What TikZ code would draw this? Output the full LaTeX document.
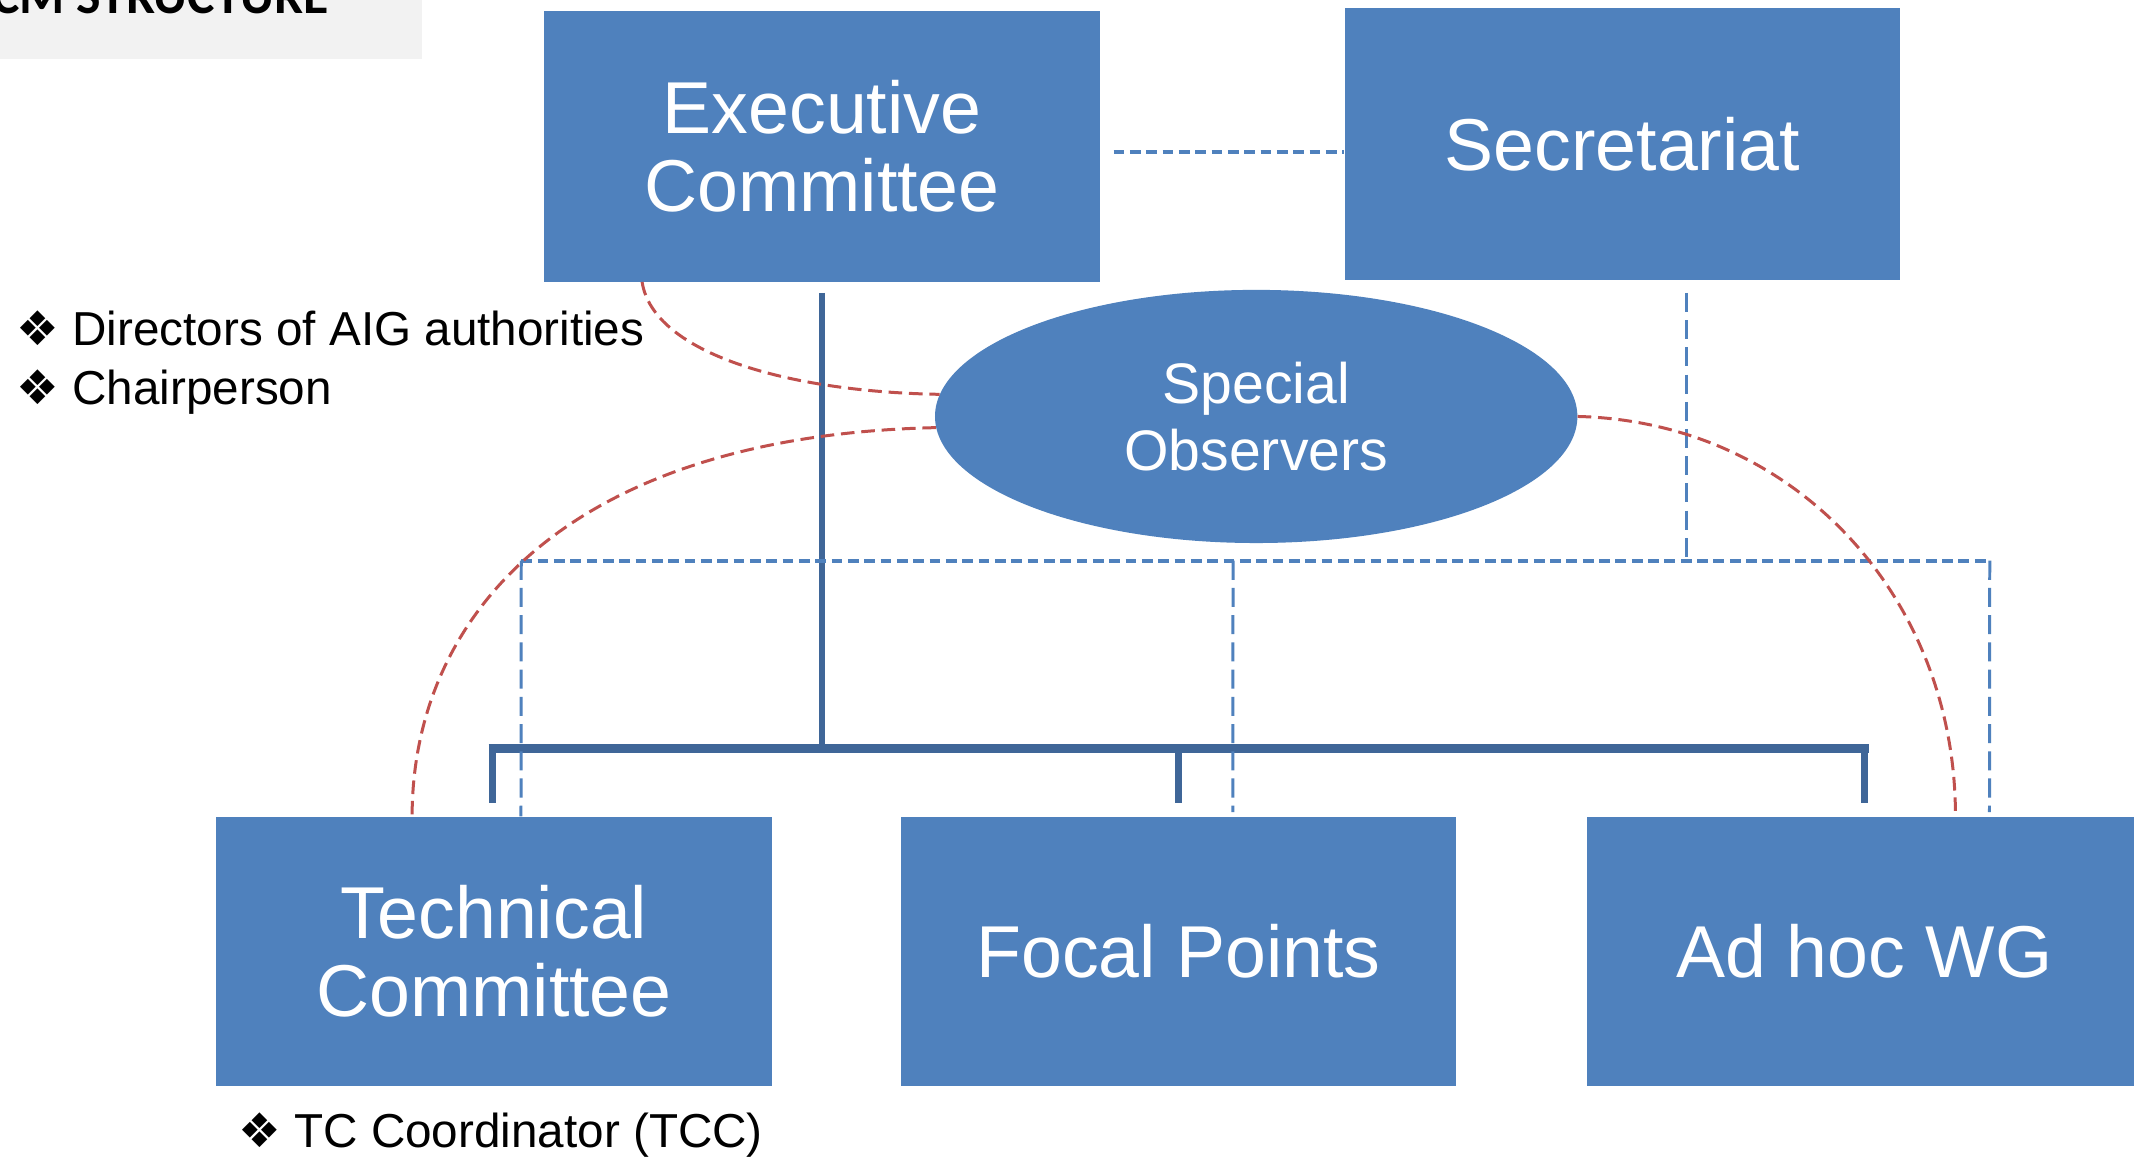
\documentclass[tikz,border=0pt]{standalone}
\usepackage{fontspec}
\setmainfont{Liberation Sans}
\newfontfamily\symfont{DejaVu Sans}
\newfontfamily\titlefont{Carlito}
\usetikzlibrary{shapes.geometric,calc}
\definecolor{boxblue}{HTML}{4F81BD}
\definecolor{treeblue}{HTML}{3F6698}
\definecolor{dashred}{HTML}{C0504D}
\definecolor{titlegray}{HTML}{F2F2F2}
\tikzset{
  orgbox/.style={rectangle, fill=boxblue, text=white, minimum width=408pt, minimum height=199pt, inner sep=0pt, align=center, font=\fontsize{54}{57}\selectfont},
  treeline/.style={draw=treeblue, line width=5pt},
  bluedash/.style={draw=boxblue, line width=3pt, dash pattern=on 8pt off 4pt},
  bluevdash/.style={draw=boxblue, line width=2.2pt, dash pattern=on 14pt off 6pt},
  reddash/.style={draw=dashred, line width=2.2pt, dash pattern=on 10pt off 5pt},
  bullettext/.style={anchor=base west, inner sep=0pt, font=\fontsize{35}{40}\selectfont}
}
\begin{document}
\begin{tikzpicture}[x=1pt, y=-1pt]
\clip (0,0) rectangle (1568,850);
\fill[white] (0,0) rectangle (1568,850);
% title
\fill[titlegray] (0,0) rectangle (310,43);
\node[anchor=base east, inner sep=0pt, font=\titlefont\bfseries\fontsize{38}{40}\selectfont] (title) at (242,10) {CM STRUCTURE};
% boxes
\node[orgbox] (EC) at (604,107.5) {Executive\\Committee};
\node[orgbox, minimum height=200pt] (Sec) at (1192,106) {Secretariat};
\node[orgbox, minimum height=198pt] (TC) at (363,699) {Technical\\Committee};
\node[orgbox, minimum height=198pt] (FP) at (866,699) {Focal Points};
\node[orgbox, minimum height=198pt] (AH) at (1370,699) {Ad hoc WG};
\node[ellipse, fill=boxblue, text=white, minimum width=472pt, minimum height=186pt, inner sep=0pt, align=center, font=\fontsize{42}{49}\selectfont] (SO) at (923,306) {Special\\Observers};
% tree
\coordinate (barmid) at (604,550);
\draw[treeline] ($(EC.south)+(0,8)$) -- (barmid);
\draw[treeline, line width=7pt] (359,550) -- (1373,550);
\draw[treeline] (362,550) -- ($(TC.north)+(-1,-10)$);
\draw[treeline] (866,550) -- ($(FP.north)+(0,-10)$);
\draw[treeline] (1370,550) -- ($(AH.north)+(0,-10)$);
% blue dashed
\draw[bluedash] ($(EC.east)+(10,4.5)$) -- ($(Sec.west)+(0,6)$);
\draw[bluevdash] ($(Sec.south)+(47,9)$) -- (1239,412);
\draw[bluedash] (383,412) -- (1462,412);
\draw[bluevdash] (383,412) -- ($(TC.north west)+(224,0)$);
\draw[bluevdash] (906,412) -- ($(FP.north west)+(244,-3)$);
\draw[bluevdash] (1462,412) -- ($(AH.north west)+(296,-3)$);
% red dashed curves
\draw[reddash] ($(EC.south west)+(72,0)$) .. controls (480,260) and (580,288) .. (SO.176);
\draw[reddash] (SO.182) .. controls (420,320) and (303,450) .. ($(TC.north west)+(144,0)$);
\draw[reddash] (SO.0) .. controls (1320,310) and (1437,440) .. ($(AH.north west)+(271,0)$);
% bullet texts
\node[bullettext] (b1) at (12,254) {{\symfont ❖} Directors of AIG authorities};
\node[bullettext] (b2) at (12,297) {{\symfont ❖} Chairperson};
\node[bullettext] (b3) at (175,843) {{\symfont ❖} TC Coordinator (TCC)};
\end{tikzpicture}
\end{document}
